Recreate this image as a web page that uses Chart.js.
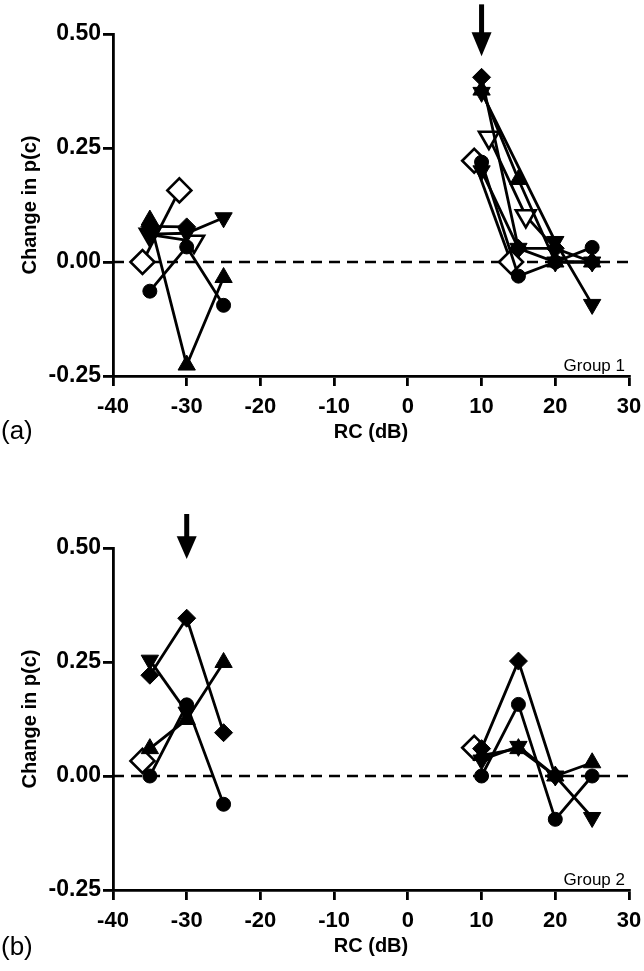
<!DOCTYPE html>
<html>
<head>
<meta charset="utf-8">
<script src="https://cdn.jsdelivr.net/npm/chart.js@4.4.1/dist/chart.umd.min.js"></script>
<style>
  html, body { margin: 0; padding: 0; background: #fff; }
  #wrap { position: relative; width: 644px; height: 971px; overflow: hidden; }
  canvas { position: absolute; left: 0; }
  .plabel { position: absolute; left: 1px; font-family: 'Liberation Sans', Arial, sans-serif; font-size: 26px; color: #000; line-height: 30px; }
</style>
</head>
<body>
<div id="wrap">
  <canvas id="ca" width="644" height="446" style="top:0px"></canvas>
  <canvas id="cb" width="644" height="446" style="top:514px"></canvas>
  <div class="plabel" style="top:415px">(a)</div>
  <div class="plabel" style="top:931px">(b)</div>
</div>
<script>
// ---------- axis ticks ----------
const xTickValues = [-40, -30, -20, -10, 0, 10, 20, 30];
const yTickValues = [-0.25, 0.00, 0.25, 0.50];
const xTitle = 'RC (dB)';
const yTitle = 'Change in p(c)';
const groupLabels = ['Group 1', 'Group 2'];
const zeroLine = [[-40, 0], [30, 0]];

// ---------- panel (a), Group 1 ----------
// left cluster
const aL_openDiamond = [[-36, 0.000], [-31, 0.157]];
const aL_circle      = [[-35, -0.064], [-30, 0.033], [-25, -0.095]];
const aL_triUp       = [[-35, 0.092], [-30, -0.226], [-25, -0.034]];
const aL_diamond     = [[-35, 0.078], [-30, 0.077]];
const aL_triDown     = [[-35, 0.061], [-30, 0.063], [-25, 0.097]];
const aL_openTriDown = [[-35, 0.060], [-29, 0.045]];
// right cluster
const aR_diamond     = [[10, 0.405], [15, 0.030], [20, 0.030], [25, 0.000]];
const aR_triUp       = [[10, 0.377], [15, 0.181], [20, 0.000], [25, 0.000]];
const aR_triDown1    = [[10, 0.372], [20, 0.045], [25, -0.093]];
const aR_openTriDown = [[11, 0.273], [16, 0.101], [20, 0.030]];
const aR_openDiamond = [[9, 0.222], [14, 0.000]];
const aR_circle      = [[10, 0.219], [15, -0.031], [20, 0.000], [25, 0.032]];
const aR_triDown2    = [[10, 0.200], [15, 0.030], [20, 0.000], [25, 0.000]];
const arrowA = [10, 0.565, 0.504, 0.451];   // x, top, head base, tip

// ---------- panel (b), Group 2 ----------
const bL_diamond     = [[-35, 0.221], [-30, 0.346], [-25, 0.095]];
const bL_triDown     = [[-35, 0.254], [-30, 0.140]];
const bL_circle      = [[-35, 0.000], [-30, 0.156], [-25, -0.062]];
const bL_triUp       = [[-35, 0.060], [-30, 0.124], [-25, 0.249]];
const bL_openDiamond = [[-36, 0.033]];
const bR_diamond     = [[10, 0.060], [15, 0.252], [20, 0.000]];
const bR_circle      = [[10, 0.000], [15, 0.157], [20, -0.095], [25, 0.000]];
const bR_triDown     = [[10, 0.035], [15, 0.065], [20, 0.000], [25, -0.091]];
const bR_triUp       = [[10, 0.045], [15, 0.060], [20, 0.000], [25, 0.029]];
const bR_openDiamond = [[9, 0.062]];
const arrowB = [-30, 0.575, 0.526, 0.476];

// ---------- styles ----------
const FONT = "'Liberation Sans', Arial, Helvetica, sans-serif";
const STYLES = {
  circle:      { pointStyle: 'circle',   radius: 7,    rot: 0,   fill: '#000' },
  diamond:     { pointStyle: 'rectRot',  radius: 9,    rot: 0,   fill: '#000' },
  triUp:       { pointStyle: 'triangle', radius: 10,   rot: 0,   fill: '#000' },
  triDown:     { pointStyle: 'triangle', radius: 10,   rot: 180, fill: '#000' },
  openDiamond: { pointStyle: 'rectRot',  radius: 12,   rot: 0,   fill: '#fff' },
  openTriDown: { pointStyle: 'triangle', radius: 11.5, rot: 180, fill: '#fff' }
};

function ds(points, kind, hideLastPoint) {
  const s = STYLES[kind];
  const n = points.length;
  return {
    data: points.map(p => ({ x: p[0], y: p[1] })),
    showLine: true,
    borderColor: '#000',
    borderWidth: 2.8,
    tension: 0,
    pointStyle: s.pointStyle,
    pointRadius: hideLastPoint ? points.map((p, i) => i === n - 1 ? 0 : s.radius) : s.radius,
    pointRotation: s.rot,
    pointBackgroundColor: s.fill,
    pointBorderColor: '#000',
    pointBorderWidth: s.fill === '#fff' ? 2.6 : 1,
    pointHoverRadius: s.radius,
    clip: false
  };
}

function zeroDs() {
  return {
    data: zeroLine.map(p => ({ x: p[0], y: p[1] })),
    showLine: true,
    borderColor: '#000',
    borderWidth: 2.6,
    borderDash: [11, 7],
    pointRadius: 0,
    tension: 0
  };
}

const extras = {
  id: 'extras',
  afterDatasetsDraw(chart, args, opts) {
    const ctx = chart.ctx;
    const xs = chart.scales.x, ys = chart.scales.y;
    const a = opts.arrow;
    const x = xs.getPixelForValue(a[0]);
    const yTop = ys.getPixelForValue(a[1]);
    const yBase = ys.getPixelForValue(a[2]);
    const yTip = ys.getPixelForValue(a[3]);
    ctx.save();
    ctx.fillStyle = '#000';
    ctx.fillRect(x - 2.5, yTop, 5, yBase - yTop + 1);
    ctx.beginPath();
    ctx.moveTo(x - 10, yBase);
    ctx.lineTo(x + 10, yBase);
    ctx.lineTo(x, yTip);
    ctx.closePath();
    ctx.fill();
    const ca = chart.chartArea;
    ctx.font = '17px ' + FONT;
    ctx.textAlign = 'right';
    ctx.textBaseline = 'alphabetic';
    ctx.fillText(opts.label, ca.right - 4, ca.bottom - 5);
    ctx.restore();
  }
};

function noPad(s) {
  s.paddingLeft = 0; s.paddingRight = 0; s.paddingTop = 0; s.paddingBottom = 0;
}

function makeChart(id, datasets, arrow, label) {
  return new Chart(document.getElementById(id), {
    type: 'scatter',
    data: { datasets: datasets },
    plugins: [extras],
    options: {
      responsive: false,
      animation: false,
      devicePixelRatio: 1,
      events: [],
      layout: { padding: { top: 34, right: 15, left: 0, bottom: 0 } },
      plugins: {
        legend: { display: false },
        tooltip: { enabled: false },
        extras: { arrow: arrow, label: label }
      },
      scales: {
        x: {
          type: 'linear',
          min: xTickValues[0], max: xTickValues[xTickValues.length - 1],
          afterBuildTicks: s => { s.ticks = xTickValues.map(v => ({ value: v })); },
          afterFit: s => { s.height = 446 - 376; noPad(s); },
          ticks: {
            color: '#000', padding: 8,
            font: { family: FONT, size: 22, weight: 'bold' },
            maxRotation: 0, autoSkip: false,
            callback: v => String(v)
          },
          grid: { drawOnChartArea: false, color: '#000', lineWidth: 2.8, tickLength: 10 },
          border: { color: '#000', width: 2.8 },
          title: {
            display: true, text: xTitle, color: '#000',
            font: { family: FONT, size: 20, weight: 'bold' },
            padding: { top: 0, bottom: 2 }
          }
        },
        y: {
          type: 'linear',
          min: yTickValues[0], max: yTickValues[yTickValues.length - 1],
          afterBuildTicks: s => { s.ticks = yTickValues.map(v => ({ value: v })); },
          afterFit: s => { s.width = 113; noPad(s); },
          ticks: {
            color: '#000', padding: 2,
            font: { family: FONT, size: 23, weight: 'bold' },
            autoSkip: false,
            callback: v => Number(v).toFixed(2)
          },
          grid: { drawOnChartArea: false, color: '#000', lineWidth: 2.8, tickLength: 10 },
          border: { color: '#000', width: 2.8 },
          title: {
            display: true, text: yTitle, color: '#000',
            font: { family: FONT, size: 20, weight: 'bold' },
            padding: { top: 18, bottom: 0 }
          }
        }
      }
    }
  });
}

Chart.defaults.font.family = FONT;

makeChart('ca', [
  ds(aL_diamond, 'diamond'), ds(aL_triUp, 'triUp'), ds(aL_circle, 'circle'),
  ds(aL_triDown, 'triDown'), ds(aL_openTriDown, 'openTriDown'), ds(aL_openDiamond, 'openDiamond'),
  ds(aR_diamond, 'diamond'), ds(aR_triUp, 'triUp'), ds(aR_circle, 'circle'),
  ds(aR_triDown1, 'triDown'), ds(aR_triDown2, 'triDown'),
  ds(aR_openTriDown, 'openTriDown', true), ds(aR_openDiamond, 'openDiamond'),
  zeroDs()
], arrowA, groupLabels[0]);

makeChart('cb', [
  ds(bL_diamond, 'diamond'), ds(bL_circle, 'circle'), ds(bL_triUp, 'triUp'),
  ds(bL_triDown, 'triDown'), ds(bL_openDiamond, 'openDiamond'),
  ds(bR_diamond, 'diamond'), ds(bR_circle, 'circle'), ds(bR_triDown, 'triDown'),
  ds(bR_triUp, 'triUp'), ds(bR_openDiamond, 'openDiamond'),
  zeroDs()
], arrowB, groupLabels[1]);
</script>
</body>
</html>
